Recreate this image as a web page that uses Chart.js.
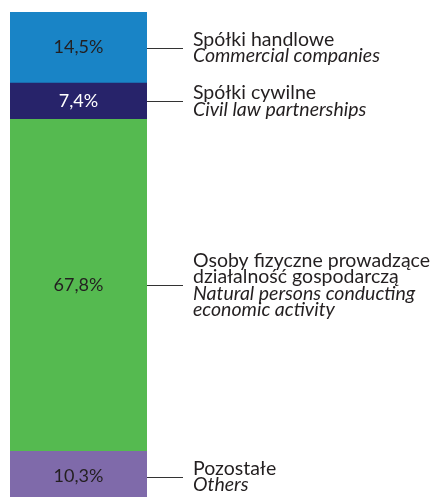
<!DOCTYPE html>
<html>
<head>
<meta charset="utf-8">
<script src="https://cdn.jsdelivr.net/npm/chart.js@4/dist/chart.umd.min.js"></script>
<style>
  html, body { margin: 0; padding: 0; background: #fff; }
  canvas { display: block; }
</style>
</head>
<body>
<canvas id="chart" width="438" height="497"></canvas>
<script>
// bottom to top, as stacked in the bar
var shares = [10.3, 67.8, 7.4, 14.5];
var valueLabels = ['10,3%', '67,8%', '7,4%', '14,5%'];
var namesPl = [['Pozostałe'], ['Osoby fizyczne prowadzące', 'działalność gospodarczą'], ['Spółki cywilne'], ['Spółki handlowe']];
var namesEn = [['Others'], ['Natural persons conducting', 'economic activity'], ['Civil law partnerships'], ['Commercial companies']];
var colors = ['#7f6aaa', '#55ba50', '#27236a', '#1984c6'];
var valueColors = ['#231f20', '#231f20', '#ffffff', '#231f20'];

var textColor = '#231f20';
var fontFamily = 'Lato, "Noto Sans", sans-serif';

var labelsPlugin = {
  id: 'sideLabels',
  afterDatasetsDraw: function (chart) {
    var ctx = chart.ctx;
    ctx.save();
    chart.data.datasets.forEach(function (ds, i) {
      var bar = chart.getDatasetMeta(i).data[0];
      var mid = (bar.y + bar.base) / 2;
      var right = bar.x + bar.width / 2;

      // value in the bar
      ctx.fillStyle = valueColors[i];
      ctx.font = '18px ' + fontFamily;
      ctx.textAlign = 'center';
      ctx.textBaseline = 'middle';
      ctx.fillText(valueLabels[i], bar.x, mid);

      // leader line
      ctx.strokeStyle = '#333';
      ctx.lineWidth = 1;
      ctx.beginPath();
      ctx.moveTo(right, Math.round(mid) + 0.5);
      ctx.lineTo(right + 36, Math.round(mid) + 0.5);
      ctx.stroke();

      // category text
      var lines = [];
      namesPl[i].forEach(function (t) { lines.push({ t: t, it: false }); });
      namesEn[i].forEach(function (t) { lines.push({ t: t, it: true }); });
      var lh = 16.5;
      var y0 = mid - (lines.length - 1) * lh / 2;
      ctx.textAlign = 'left';
      ctx.fillStyle = textColor;
      lines.forEach(function (l, k) {
        ctx.font = (l.it ? 'italic ' : '') + '19.5px ' + fontFamily;
        ctx.fillText(l.t, right + 46, y0 + k * lh);
      });
    });
    ctx.restore();
  }
};

new Chart(document.getElementById('chart'), {
  type: 'bar',
  data: {
    labels: [''],
    datasets: shares.map(function (v, i) {
      return {
        data: [v],
        backgroundColor: colors[i],
        borderWidth: 0,
        barPercentage: 1,
        categoryPercentage: 1
      };
    })
  },
  options: {
    responsive: false,
    animation: false,
    layout: { padding: { left: 10, right: 291, top: 12, bottom: 0 } },
    scales: {
      x: { stacked: true, display: false },
      y: { stacked: true, display: false, min: 1, max: 100 }
    },
    plugins: {
      legend: { display: false },
      tooltip: { enabled: false }
    }
  },
  plugins: [labelsPlugin]
});
</script>
</body>
</html>
